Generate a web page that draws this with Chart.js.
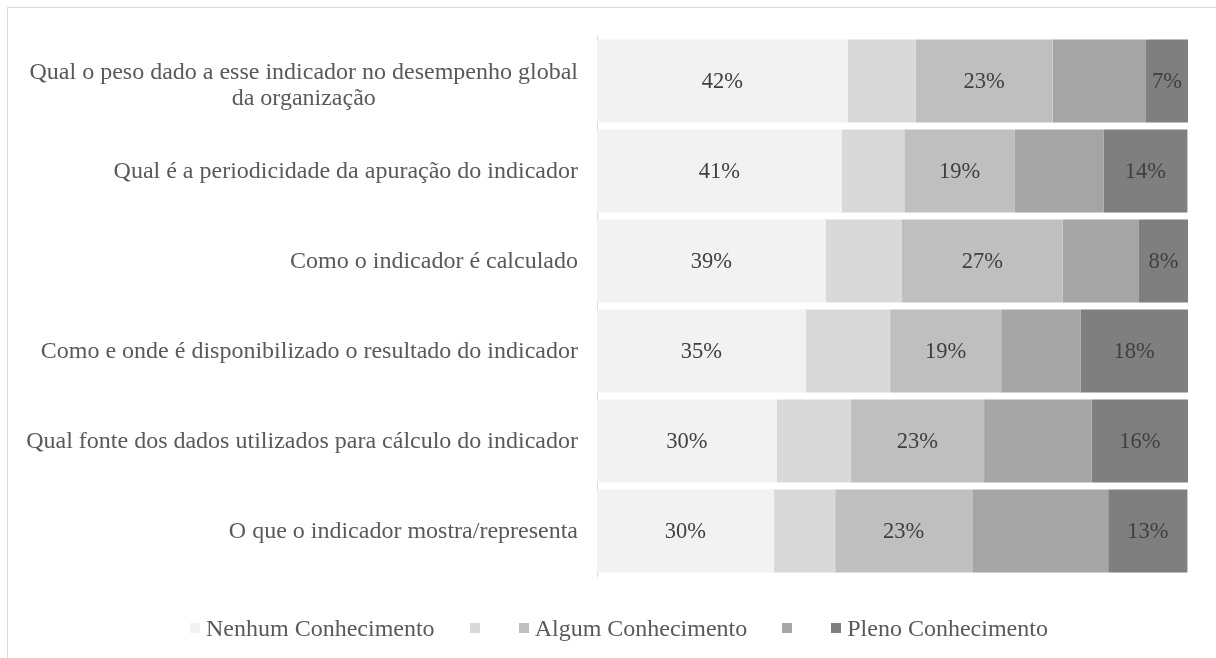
<!DOCTYPE html>
<html>
<head>
<meta charset="utf-8">
<script src="https://cdn.jsdelivr.net/npm/chart.js@4.4.0/dist/chart.umd.min.js"></script>
<style>
  html, body { margin: 0; padding: 0; width: 1216px; height: 658px; overflow: hidden; background: #fff; }
  #frame { position: absolute; left: 7px; top: 7px; width: 1300px; height: 800px; border: 1px solid #d9d9d9; box-sizing: border-box; }
  #wrap { position: absolute; left: 0; top: 0; width: 1216px; height: 658px; }
  #legend { position: absolute; left: 190px; top: 614px; height: 28px; display: flex; align-items: center;
            font-family: "Liberation Serif", "DejaVu Serif", serif; font-size: 24px; color: #595959; white-space: nowrap; }
  .item { display: flex; align-items: center; margin-right: 35px; }
  .box { width: 10px; height: 10px; }
  .txt { margin-left: 6px; }
  .empty .box { margin-right: 4px; }
</style>
</head>
<body>
<div id="frame"></div>
<div id="wrap"><canvas id="c" width="1216" height="658"></canvas></div>
<div id="legend"></div>
<script>
const categories = [
  ["Qual o peso dado a esse indicador no desempenho global", "da organização"],
  "Qual é a periodicidade da apuração do indicador",
  "Como o indicador é calculado",
  "Como e onde é disponibilizado o resultado do indicador",
  "Qual fonte dos dados utilizados para cálculo do indicador",
  "O que o indicador mostra/representa"
];
const seriesNames = ["Nenhum Conhecimento", "", "Algum Conhecimento", "", "Pleno Conhecimento"];
const nenhum = [42.4, 41.4, 38.7, 35.3, 30.4, 29.9];
const serie2 = [11.5, 10.6, 12.9, 14.3, 12.5, 10.4];
const algum  = [23.2, 18.7, 27.2, 18.8, 22.6, 23.2];
const serie4 = [15.8, 15.0, 12.9, 13.4, 18.2, 23.0];
const pleno  = [7.1, 14.2, 8.3, 18.2, 16.3, 13.4];
const colors = ["#f2f2f2", "#d9d9d9", "#bfbfbf", "#a5a5a5", "#7f7f7f"];
const showLabel = [true, false, true, false, true];
const seriesValues = [nenhum, serie2, algum, serie4, pleno];

const FONT = '"Liberation Serif", "DejaVu Serif", serif';

const datasets = seriesValues.map((vals, i) => ({
  label: seriesNames[i],
  data: vals,
  backgroundColor: colors[i],
  borderWidth: 0,
  categoryPercentage: 1.0,
  barPercentage: 0.922
}));

const valueLabels = {
  id: 'valueLabels',
  afterDatasetsDraw(chart) {
    const ctx = chart.ctx;
    ctx.save();
    ctx.font = '22.5px ' + FONT;
    ctx.fillStyle = '#404040';
    ctx.textAlign = 'center';
    ctx.textBaseline = 'middle';
    chart.data.datasets.forEach((ds, di) => {
      if (!showLabel[di]) return;
      const meta = chart.getDatasetMeta(di);
      meta.data.forEach((bar, j) => {
        const props = bar.getProps(['x', 'y', 'base'], true);
        const cx = (props.x + props.base) / 2;
        ctx.fillText(Math.round(ds.data[j]) + '%', cx, props.y + 1);
      });
    });
    ctx.restore();
  }
};

const categoryLabels = {
  id: 'categoryLabels',
  afterDraw(chart) {
    const ctx = chart.ctx;
    const yScale = chart.scales.y;
    const rightX = 578;
    const lh = 26;
    ctx.save();
    ctx.font = '24px ' + FONT;
    ctx.fillStyle = '#595959';
    ctx.textBaseline = 'middle';
    categories.forEach((lab, i) => {
      const cy = yScale.getPixelForValue(i);
      const lines = Array.isArray(lab) ? lab : [lab];
      const widths = lines.map(l => ctx.measureText(l).width);
      const maxW = Math.max(...widths);
      const top = cy - (lines.length - 1) * lh / 2 + (lines.length > 1 ? 4 : 0);
      lines.forEach((l, k) => {
        const x = rightX - maxW / 2 - widths[k] / 2;
        ctx.textAlign = 'left';
        ctx.fillText(l, x, top + k * lh + 1);
      });
    });
    ctx.restore();
  }
};

new Chart(document.getElementById('c'), {
  type: 'bar',
  data: { labels: categories, datasets: datasets },
  options: {
    indexAxis: 'y',
    responsive: false,
    animation: false,
    layout: { padding: { left: 0, right: 28, top: 36, bottom: 82 } },
    plugins: { legend: { display: false }, tooltip: { enabled: false } },
    scales: {
      x: { stacked: true, min: 0, max: 100, display: false },
      y: {
        stacked: true,
        grid: { display: false },
        border: { display: true, color: '#d9d9d9', width: 1 },
        ticks: { display: false },
        afterFit(scale) { scale.width = 597; }
      }
    }
  },
  plugins: [valueLabels, categoryLabels]
});

const legendEl = document.getElementById('legend');
seriesNames.forEach((name, i) => {
  const item = document.createElement('div');
  item.className = 'item' + (name ? '' : ' empty');
  const box = document.createElement('span');
  box.className = 'box';
  box.style.background = colors[i];
  item.appendChild(box);
  if (name) {
    const t = document.createElement('span');
    t.className = 'txt';
    t.textContent = name;
    item.appendChild(t);
  }
  legendEl.appendChild(item);
});
</script>
</body>
</html>
